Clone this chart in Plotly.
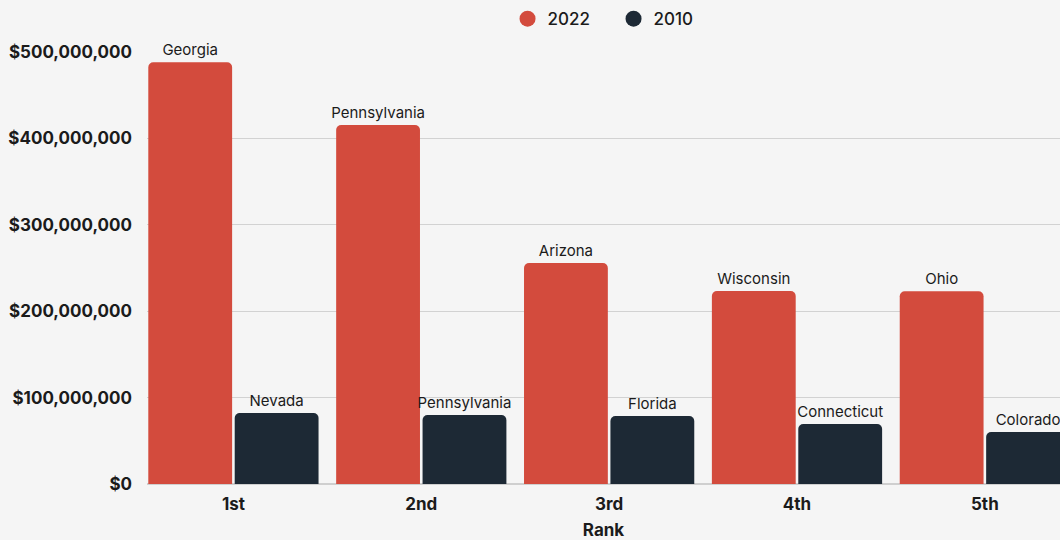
import plotly.graph_objects as go

# Top five states by rank, for each year
ranks = ["1st", "2nd", "3rd", "4th", "5th"]
states_2022 = ["Georgia", "Pennsylvania", "Arizona", "Wisconsin", "Ohio"]
values_2022 = [488_000_000, 415_500_000, 255_800_000, 223_400_000, 223_000_000]
states_2010 = ["Nevada", "Pennsylvania", "Florida", "Connecticut", "Colorado"]
values_2010 = [82_200_000, 79_900_000, 78_700_000, 69_400_000, 60_200_000]
y_ticks = [0, 100_000_000, 200_000_000, 300_000_000, 400_000_000, 500_000_000]
y_tick_text = ["$0", "$100,000,000", "$200,000,000", "$300,000,000",
               "$400,000,000", "$500,000,000"]

RED = "#d34b3d"
NAVY = "#1d2935"
BG = "#f5f5f5"
FONT = "Inter, Lato, sans-serif"
INK = "#1b1b1b"

fig = go.Figure()
for name, vals, labels, color in [("2022", values_2022, states_2022, RED),
                                  ("2010", values_2010, states_2010, NAVY)]:
    fig.add_trace(go.Bar(
        x=ranks, y=vals, name=name, text=labels,
        textposition="outside", cliponaxis=False, constraintext="none",
        textfont=dict(family=FONT, size=15, color=INK),
        marker=dict(color=color, cornerradius=5, line=dict(width=0)),
        showlegend=False,
    ))
    # circular legend markers
    fig.add_trace(go.Scatter(
        x=[None], y=[None], mode="markers", name=name,
        marker=dict(color=color, size=16, symbol="circle"),
    ))

fig.update_layout(
    width=1060, height=540,
    paper_bgcolor=BG, plot_bgcolor=BG,
    margin=dict(l=147, r=0, t=52, b=56),
    barmode="group", bargap=0.08, bargroupgap=0.03,
    font=dict(family=FONT, color=INK),
    legend=dict(orientation="h", x=0.511, xanchor="center", y=1.076, yanchor="middle",
                font=dict(family=FONT, size=17, color=INK, weight=500),
                itemwidth=30, entrywidth=61, traceorder="normal"),
    xaxis=dict(
        range=[-0.46, 4.40], showgrid=False, zeroline=False,
        showline=False, ticks="", ticklabelstandoff=8,
        tickfont=dict(family=FONT, size=17, color=INK, weight="bold"),
        title=dict(text="Rank", font=dict(family=FONT, size=17, color=INK, weight="bold"),
                   standoff=14),
    ),
    yaxis=dict(
        range=[0, 500_000_000], tickvals=y_ticks, ticktext=y_tick_text,
        showgrid=True, gridcolor="#d2d2d2", gridwidth=1,
        zeroline=True, zerolinecolor="#cfcfcf", zerolinewidth=2,
        ticklabelstandoff=14,
        tickfont=dict(family=FONT, size=17, color=INK, weight="bold"),
    ),
)

fig.write_html("out.html")
